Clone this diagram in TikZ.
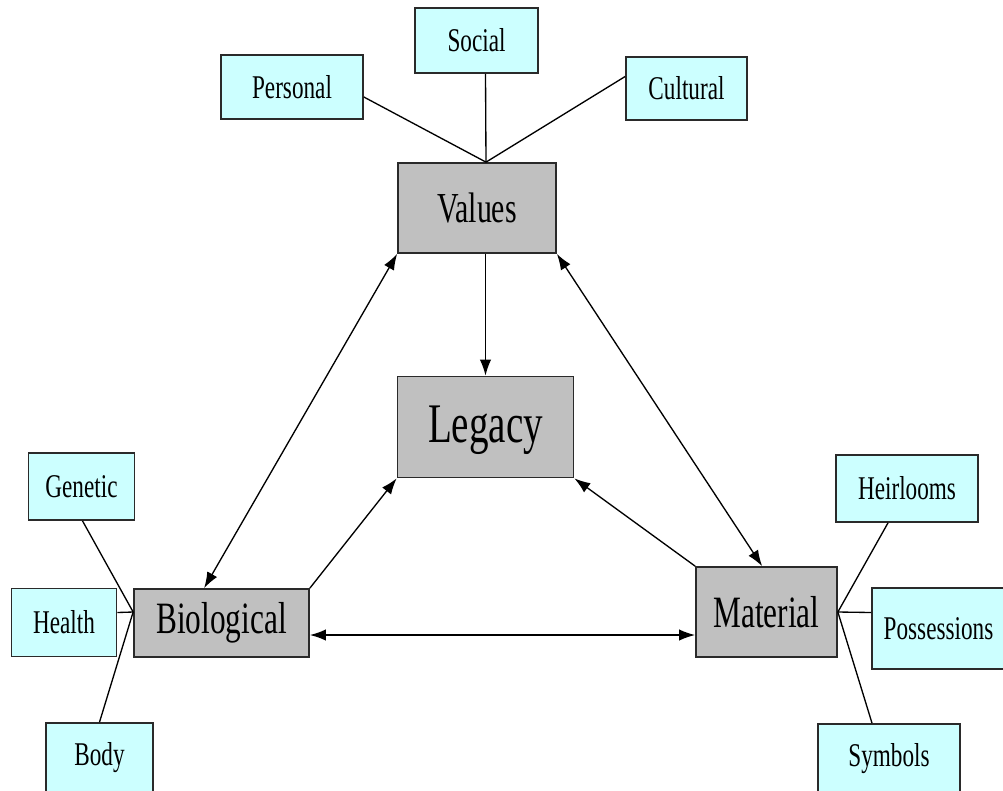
\documentclass[tikz,border=0pt]{standalone}
\usepackage{fontspec}
\setmainfont{Liberation Serif}
\usetikzlibrary{arrows.meta,calc}
\definecolor{boxcyan}{HTML}{CCFFFF}
\definecolor{boxgray}{HTML}{C0C0C0}
\definecolor{edge}{HTML}{2A2A2A}
\newcommand{\tx}[2]{\fontsize{#1}{#1}\selectfont\scalebox{1}[1.43]{#2}}
\tikzset{
  cbox/.style={draw=edge, line width=1.3pt, fill=boxcyan, inner sep=0pt, align=center},
  gbox/.style={draw=edge, line width=1.3pt, fill=boxgray, inner sep=0pt, align=center},
  link/.style={draw=black, line width=1pt},
  arr/.style={link, -{Latex[length=12pt,width=8.5pt]}},
  darr/.style={link, {Latex[length=12pt,width=8.5pt]}-{Latex[length=12pt,width=8.5pt]}}
}
\begin{document}
\begin{tikzpicture}[x=0.75pt,y=-0.75pt]
\useasboundingbox (0,0) rectangle (1003,790);
% small boxes
\node[cbox, minimum width=92.25pt, minimum height=48.75pt] (social) at (476.5,40.5) {\tx{17.4}{Social}};
\node[cbox, minimum width=106.5pt, minimum height=48pt] (personal) at (292,87) {\tx{17.4}{Personal}};
\node[cbox, minimum width=90.75pt, minimum height=47.25pt] (cultural) at (686.5,88.5) {\tx{17.4}{Cultural}};
\node[cbox, minimum width=79.5pt, minimum height=50.25pt] (genetic) at (81.5,486.5) {\tx{17.4}{Genetic}};
\node[cbox, minimum width=78.75pt, minimum height=51pt] (health) at (64,622.5) {\tx{17.4}{Health}};
\node[cbox, minimum width=80.25pt, minimum height=52.5pt] (body) at (99.5,758) {\tx{17.4}{Body}};
\node[cbox, minimum width=106.5pt, minimum height=50.25pt] (heirlooms) at (907,488.5) {\tx{17.4}{Heirlooms}};
\node[cbox, minimum width=99.75pt, minimum height=60.75pt] (possessions) at (938.5,628.5) {\tx{17.4}{Possessions}};
\node[cbox, minimum width=106.5pt, minimum height=51.75pt] (symbols) at (889,758.5) {\tx{17.4}{Symbols}};
% main boxes
\node[gbox, minimum width=118.5pt, minimum height=67.5pt] (values) at (477,208) {\tx{22.4}{Values}};
\node[gbox, minimum width=132pt, minimum height=75.75pt, text depth=4pt] (legacy) at (485.5,427) {\tx{29.3}{Legacy}};
\node[gbox, minimum width=131.25pt, minimum height=51pt] (biological) at (221.5,623) {\tx{23.5}{Biological}};
\node[gbox, minimum width=105.75pt, minimum height=67.5pt] (material) at (766.5,612) {\tx{23.5}{Material}};
% hubs
\coordinate (vtop) at ($(values.north)+(9,0)$);
\coordinate (bhub) at ($(biological.west)+(0,-11)$);
\coordinate (mhub) at (material.east);
% value sub-links
\draw[link] ($(personal.east)+(0,10)$) -- (vtop);
\draw[link] ($(social.south)+(9,0)$) -- (vtop);
\draw[link] ($(cultural.west)+(0,-12)$) -- (vtop);
% biological sub-links
\draw[link] ($(genetic.south)+(1,0)$) -- (bhub);
\draw[link] ($(health.east)+(0,-10)$) -- (bhub);
\draw[link] (body.north) -- (bhub);
% material sub-links
\draw[link] ($(heirlooms.south)+(-19,0)$) -- (mhub);
\draw[link] ($(possessions.west)+(0,-16)$) -- (mhub);
\draw[link] ($(symbols.north)+(-17,0)$) -- (mhub);
% main arrows
\draw[arr] ($(values.south)+(8.5,0)$) -- (legacy.north);
\draw[darr] (values.south west) -- ($(biological.north west)+(71,0)$);
\draw[darr] (values.south east) -- ($(material.north west)+(67,0)$);
\draw[arr] (biological.north east) -- (legacy.south west);
\draw[arr] (material.north west) -- (legacy.south east);
\draw[darr] ($(biological.east)+(0,12)$) -- ($(material.west)+(0,23)$);
\end{tikzpicture}
\end{document}
